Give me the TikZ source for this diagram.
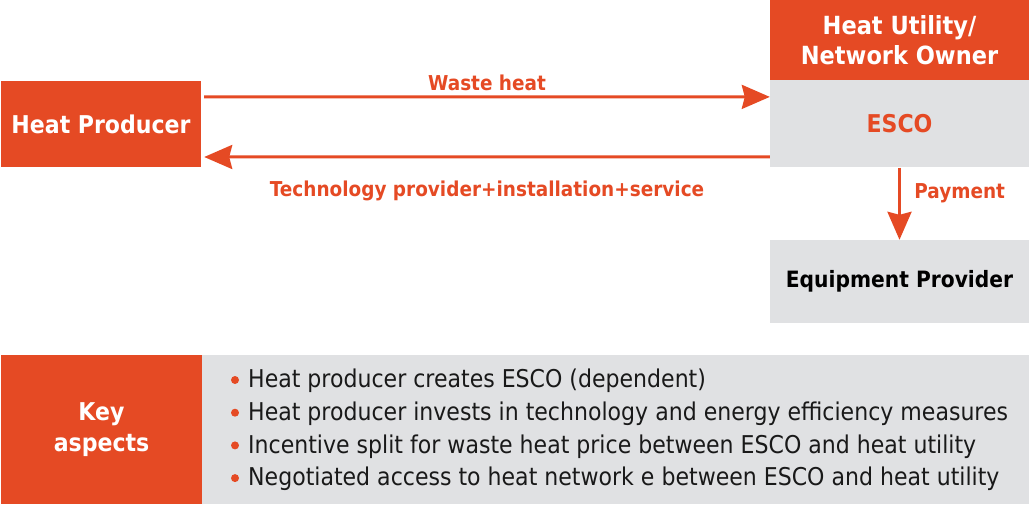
\documentclass[tikz,border=0pt]{standalone}
\usepackage{fontspec}
\setmainfont{DejaVu Sans}[FakeStretch=0.9]
\usetikzlibrary{arrows.meta, positioning}
\definecolor{orng}{HTML}{E54A24}
\definecolor{lgray}{HTML}{E0E1E3}

\begin{document}
\begin{tikzpicture}[x=1pt,y=-1pt,
  obox/.style={fill=orng, text=white, inner sep=0pt, align=center,
    font=\bfseries\fontsize{24.5}{31}\selectfont},
  gbox/.style={fill=lgray, inner sep=0pt, align=center,
    font=\bfseries\fontsize{24.5}{31}\selectfont},
  arr/.style={draw=orng, line width=3pt,
    -{Stealth[length=28pt, width=24pt, inset=3pt]}},
  lbl/.style={text=orng, font=\bfseries\fontsize{20.5}{25}\selectfont}]
  \useasboundingbox (0,0) rectangle (1029,505);

  \node[obox, minimum width=200pt, minimum height=86pt] (prod) at (101,124) {Heat Producer};
  \node[obox, minimum width=259pt, minimum height=80pt,
        font=\bfseries\fontsize{25}{30}\selectfont] (util) at (899.5,40) {\raisebox{-3pt}{Heat Utility/}\\\raisebox{-3pt}{Network Owner}};
  \node[gbox, minimum width=259pt, minimum height=87pt, text=orng, below=0pt of util] (esco) {\raisebox{-1pt}{ESCO}};
  \node[gbox, minimum width=259pt, minimum height=83pt,
        font=\bfseries\fontsize{22.5}{28}\selectfont] (equip) at (899.5,281.5) {Equipment Provider};

  \node[obox, minimum width=201pt, minimum height=149pt] (key) at (101.5,429.5) {Key\\aspects};
  \node[gbox, minimum width=827pt, minimum height=149pt, right=0pt of key] (asp) {};

  \path[arr] ([xshift=3pt,yshift=27pt]prod.east) -- ([yshift=27pt]esco.west)
    node[lbl, midway, above=1pt] {Waste heat};
  \path[arr] ([yshift=-33pt]esco.west) -- ([xshift=3pt,yshift=-33pt]prod.east)
    node[lbl, midway, below=19pt] {Technology provider+installation+service};
  \path[arr] (esco.south) -- (equip.north)
    node[lbl, pos=0.36, right=10pt] {Payment};

  \foreach \txt [count=\i from 0] in {Heat producer creates ESCO (dependent),
      Heat producer invests in technology and energy efficiency measures,
      Incentive split for waste heat price between ESCO and heat utility,
      Negotiated access to heat network e between ESCO and heat utility} {
    \fill[orng] (235,380+32.7*\i) circle (4);
    \node[anchor=west, inner sep=0pt, text=black!90,
          font=\fontsize{24.5}{30}\selectfont] (b\i) at (248,381+32.7*\i) {\txt};
  }
\end{tikzpicture}
\end{document}
